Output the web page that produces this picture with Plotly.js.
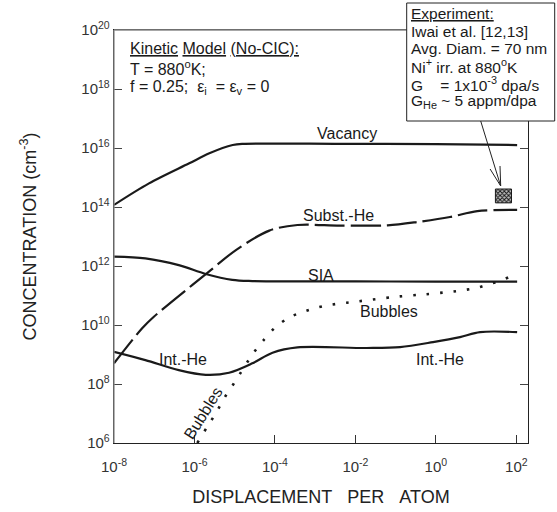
<!DOCTYPE html>
<html>
<head>
<meta charset="utf-8">
<script src="https://cdn.plot.ly/plotly-3.0.1.min.js"></script>
<style>html,body{margin:0;padding:0;background:#fff}#chart{width:557px;height:512px}</style>
</head>
<body>
<div id="chart"></div>
<script>
// ---- Data (log10 of dpa and log10 of concentration) ----
const vacancyLogDpa  = [-8.0, -7.13, -6.13, -5.63, -5.05, -4.8, -2.39, 0.0, 2.02];
const vacancyLogConc = [14.07, 14.80, 15.48, 15.82, 16.10, 16.14, 16.14, 16.13, 16.10];

const substHeLogDpa  = [-8.0, -7.30, -7.01, -6.05, -5.64, -4.97, -4.14, -3.44, -2.39, -1.20, -0.47, 0.35, 1.03, 2.02];
const substHeLogConc = [8.70, 9.89, 10.28, 11.36, 11.81, 12.54, 13.20, 13.39, 13.37, 13.38, 13.49, 13.66, 13.86, 13.90];

const siaLogDpa  = [-8.0, -7.22, -6.39, -5.72, -5.06, -4.56, -2.0, 0.0, 2.02];
const siaLogConc = [12.32, 12.26, 12.03, 11.73, 11.53, 11.49, 11.48, 11.47, 11.47];

const bubblesLogDpa  = [-5.93, -5.67, -5.46, -5.26, -5.01, -4.53, -4.26, -3.99, -3.64, -3.29, -3.01, -2.64, -2.06, -0.97, -0.27, 0.40, 0.73, 1.02, 1.31, 1.60, 1.85, 2.04];
const bubblesLogConc = [6.00, 6.58, 7.03, 7.52, 8.04, 9.06, 9.52, 9.92, 10.26, 10.45, 10.57, 10.68, 10.78, 10.96, 11.04, 11.13, 11.19, 11.26, 11.38, 11.50, 11.64, 11.74];

const intHeLogDpa  = [-8.0, -7.22, -6.39, -5.72, -5.14, -4.56, -4.06, -3.44, -1.72, -0.89, -0.07, 0.60, 1.10, 2.02];
const intHeLogConc = [9.09, 8.81, 8.47, 8.31, 8.38, 8.70, 9.06, 9.24, 9.22, 9.25, 9.42, 9.59, 9.76, 9.76];

// Experimental point (Iwai et al.): dpa range and concentration range (log10)
const expLogDpa  = [1.48, 1.88];
const expLogConc = [14.14, 14.61];

const xTickExps = [-8, -6, -4, -2, 0, 2];
const yTickExps = [6, 8, 10, 12, 14, 16, 18, 20];

// ---- helpers ----
const pow10 = a => a.map(v => Math.pow(10, v));
const FONT = 'Liberation Sans, Arial, Helvetica, sans-serif';
const INK = '#1a1a1a';
// pixel -> paper conversion for decorations (plot area 114.3..528.3 x 30..443)
const L = 114.3, R = 528.3, T = 30, B = 443;
const px = x => (x - L) / (R - L);
const py = y => (B - y) / (B - T);

function curve(xs, ys, dash, width) {
  return {
    type: 'scatter', mode: 'lines',
    x: pow10(xs), y: pow10(ys),
    line: {color: INK, width: width || 2.2, dash: dash || 'solid', shape: 'spline', smoothing: 0.9},
    hoverinfo: 'skip', showlegend: false
  };
}

const ex = pow10(expLogDpa), ey = pow10(expLogConc);
const traces = [
  curve(vacancyLogDpa, vacancyLogConc),
  curve(substHeLogDpa, substHeLogConc, '30px,6px'),
  curve(siaLogDpa, siaLogConc),
  curve(bubblesLogDpa, bubblesLogConc, '2.5px,11px', 2.6),
  curve(intHeLogDpa, intHeLogConc),
  {
    type: 'scatter', mode: 'lines',
    x: [ex[0], ex[1], ex[1], ex[0], ex[0]],
    y: [ey[0], ey[0], ey[1], ey[1], ey[0]],
    fill: 'toself', fillcolor: '#6e6e6e',
    fillpattern: {shape: 'x', fgcolor: '#111', bgcolor: '#bbb', size: 3, solidity: 0.5},
    line: {color: INK, width: 1}, hoverinfo: 'skip', showlegend: false
  }
];

function lab(text, x, y, opts) {
  return Object.assign({
    text: text, xref: 'paper', yref: 'paper', x: px(x), y: py(y),
    xanchor: 'center', yanchor: 'middle', showarrow: false,
    font: {family: FONT, size: 16, color: INK}
  }, opts || {});
}
const NB = '\u00a0';
const boxFont = {family: FONT, size: 15.5, color: INK};
const annotations = [
  lab('Vacancy', 347, 133),
  lab('Subst.-He', 339, 215),
  lab('SIA', 321, 275),
  lab('Bubbles', 389, 311),
  lab('Int.-He', 440, 359),
  lab('Int.-He', 183, 359),
  lab('Bubbles', 203, 413, {textangle: -58}),
  lab('<u>Kinetic</u> <u>Model</u> <u>(No-CIC):</u>', 128, 48, {xanchor: 'left'}),
  lab('T = 880<sup>o</sup>K;', 128, 68, {xanchor: 'left'}),
  lab('f = 0.25;' + NB + NB + 'ε<sub>i</sub>' + NB + NB + '= ε<sub>v</sub> = 0', 128, 87, {xanchor: 'left'}),
  lab('<u>Experiment:</u>', 409, 13, {xanchor: 'left', font: boxFont}),
  lab('Iwai et al. [12,13]', 409, 31, {xanchor: 'left', font: boxFont}),
  lab('Avg. Diam. = 70 nm', 409, 48, {xanchor: 'left', font: boxFont}),
  lab('Ni<sup>+</sup> irr. at 880<sup>o</sup>K', 409, 66, {xanchor: 'left', font: boxFont}),
  lab('G' + NB + NB + NB + NB + '= 1x10<sup>-3</sup> dpa/s', 409, 84, {xanchor: 'left', font: boxFont}),
  lab('G<sub>He</sub> ~ 5 appm/dpa', 409, 101, {xanchor: 'left', font: boxFont})
];

function seg(x0, y0, x1, y1, color, width) {
  return {type: 'line', xref: 'paper', yref: 'paper', x0: px(x0), y0: py(y0), x1: px(x1), y1: py(y1),
          line: {color: color, width: width}, layer: 'above'};
}
const shapes = [
  // gray left and top frame lines
  seg(L, T, L, B, '#8a8a8a', 1.3),
  seg(L, T, R, T, '#8a8a8a', 1.3),
  // experiment box
  {type: 'rect', xref: 'paper', yref: 'paper', x0: px(407), x1: px(555), y0: py(3), y1: py(121),
   fillcolor: '#fff', line: {color: '#222', width: 1}, layer: 'above'},
  // arrow
  seg(481, 121, 501, 186, '#222', 1),
  seg(501, 186, 490.4, 169, '#222', 1),
  seg(501, 186, 500.3, 166, '#222', 1)
];

const layout = {
  width: 557, height: 512,
  margin: {l: L, r: 557 - R, t: T, b: 512 - B, pad: 0},
  paper_bgcolor: '#fff', plot_bgcolor: '#fff',
  font: {family: FONT, color: '#222'},
  showlegend: false, hovermode: false,
  xaxis: {
    type: 'log', range: [-8, 2.29],
    tickvals: pow10(xTickExps), ticktext: xTickExps.map(e => '10<sup>' + e + '</sup>'),
    ticks: 'inside', ticklen: 8, tickcolor: '#333', tickwidth: 1,
    showline: true, linecolor: '#222', linewidth: 1.3, mirror: true,
    showgrid: false, zeroline: false,
    tickfont: {family: FONT, size: 15, color: '#333'},
    ticklabelstandoff: 10,
    title: {text: 'DISPLACEMENT' + NB + NB + NB + 'PER' + NB + NB + NB + 'ATOM', font: {family: FONT, size: 18, color: '#222'}, standoff: 16}
  },
  yaxis: {
    type: 'log', range: [6, 20],
    tickvals: pow10(yTickExps), ticktext: yTickExps.map(e => '10<sup>' + e + '</sup>'),
    ticks: 'inside', ticklen: 8, tickcolor: '#444', tickwidth: 1,
    showline: true, linecolor: '#222', linewidth: 1.3, mirror: 'ticks',
    showgrid: false, zeroline: false,
    tickfont: {family: FONT, size: 15, color: '#333'},
    ticklabelstandoff: 0,
    title: {text: 'CONCENTRATION (cm<sup>-3</sup>)', font: {family: FONT, size: 18, color: '#222'}, standoff: 40}
  },
  annotations: annotations,
  shapes: shapes
};

Plotly.newPlot('chart', traces, layout, {displayModeBar: false, staticPlot: true});
</script>
</body>
</html>
